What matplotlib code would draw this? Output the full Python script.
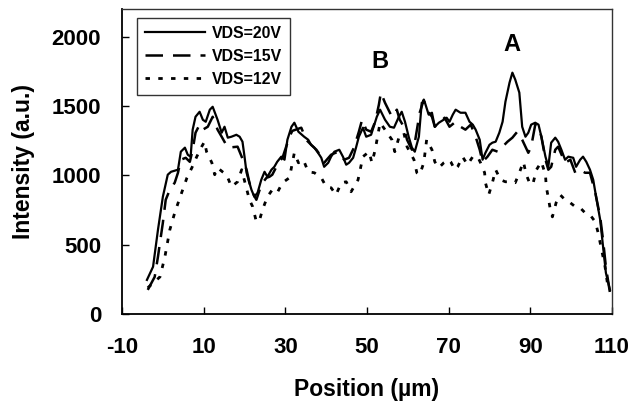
import matplotlib
matplotlib.use("Agg")
import matplotlib.pyplot as plt

# ---- data ----
pos20 = [-3.9, -2.4, -1.2, 0.0, 1.2, 2.0, 3.7, 4.4, 5.4, 6.1,
         6.8, 7.3, 8.0, 9.0, 9.8, 10.5, 11.5, 12.2, 13.4, 14.4,
         15.1, 15.9, 16.8, 18.0, 18.8, 19.5, 20.0, 20.5, 21.7, 22.4,
         23.2, 24.1, 24.9, 25.6, 26.6, 27.3, 28.0, 29.0, 29.8, 30.5,
         31.5, 32.2, 33.2, 34.6, 35.6, 36.3, 37.1, 38.0, 38.8, 39.5,
         40.5, 41.2, 42.0, 43.2, 44.1, 44.9, 45.6, 46.6, 47.3, 48.0,
         49.0, 49.8, 51.0, 52.4, 53.2, 54.4, 55.6, 56.6, 57.8, 58.5,
         59.3, 60.2, 61.0, 61.7, 62.7, 63.4, 64.1, 65.1, 65.9, 66.6,
         67.6, 68.8, 69.5, 70.2, 71.0, 71.7, 72.9, 74.1, 75.1, 75.9,
         76.6, 77.6, 78.3, 79.0, 80.0, 80.7, 81.5, 82.4, 83.2, 83.9,
         84.9, 85.6, 86.3, 87.3, 88.0, 88.8, 89.5, 90.2, 91.2, 92.0,
         92.7, 93.7, 94.4, 95.1, 96.1, 96.8, 97.6, 98.5, 99.3, 100.5,
         101.2, 102.2, 102.9, 103.7, 104.6, 105.4, 106.1, 107.1, 107.8, 108.5,
         109.5]
int20 = [245, 340, 606, 845, 1004, 1025, 1040, 1170, 1199, 1148,
         1134, 1329, 1422, 1458, 1400, 1386, 1473, 1494, 1400, 1307,
         1350, 1271, 1278, 1292, 1278, 1242, 1134, 1018, 895, 845,
         874, 967, 1025, 989, 1040, 1061, 1097, 1134, 1112, 1256,
         1350, 1379, 1314, 1278, 1256, 1220, 1199, 1162, 1126, 1061,
         1090, 1134, 1170, 1184, 1134, 1076, 1090, 1126, 1199, 1278,
         1343, 1278, 1292, 1422, 1473, 1401, 1350, 1343, 1422, 1458,
         1386, 1278, 1199, 1170, 1278, 1523, 1531, 1437, 1451, 1350,
         1379, 1401, 1415, 1386, 1437, 1473, 1451, 1451, 1386, 1365,
         1329, 1256, 1112, 1162, 1220, 1235, 1242, 1307, 1386, 1531,
         1668, 1740, 1690, 1596, 1350, 1278, 1307, 1365, 1379, 1365,
         1278, 1134, 1061, 1235, 1271, 1242, 1184, 1112, 1134, 1126,
         1061, 1112, 1134, 1097, 1040, 967, 845, 679, 484, 296,
         173]

pos15 = [-3.7, -2.0, -1.2, -0.5, 0.0, 0.7, 1.7, 2.9, 3.7, 4.4,
         5.6, 6.6, 7.3, 8.0, 9.0, 9.8, 11.0, 12.2, 13.4, 14.4,
         15.9, 18.3, 19.3, 20.5, 21.2, 22.0, 22.9, 23.7, 24.4, 25.4,
         26.1, 26.8, 27.8, 28.5, 29.3, 30.2, 31.0, 31.7, 33.9, 35.1,
         36.3, 37.6, 38.8, 39.5, 41.2, 42.9, 44.4, 45.6, 46.8, 48.0,
         48.8, 49.8, 51.0, 52.0, 52.9, 53.4, 54.4, 56.1, 57.3, 58.0,
         59.0, 59.8, 61.0, 61.7, 62.9, 63.9, 64.6, 65.9, 66.6, 67.8,
         69.0, 70.2, 71.7, 72.9, 74.1, 75.4, 76.6, 77.6, 78.3, 79.5,
         80.7, 82.0, 83.2, 84.4, 85.6, 86.8, 88.0, 89.5, 90.2, 91.2,
         92.0, 92.7, 93.7, 94.4, 95.1, 96.1, 96.8, 98.5, 99.8, 101.0,
         102.2, 103.4, 104.6, 105.9, 107.1, 107.8, 108.5, 109.5]
int15 = [173, 267, 412, 556, 657, 823, 895, 946, 1018, 1112,
         1126, 1097, 1184, 1307, 1365, 1329, 1350, 1422, 1329, 1278,
         1199, 1206, 1134, 1040, 946, 874, 823, 895, 946, 982,
         989, 1004, 1061, 1097, 1126, 1206, 1278, 1320, 1343, 1256,
         1220, 1184, 1134, 1090, 1148, 1170, 1112, 1126, 1199, 1314,
         1401, 1329, 1314, 1386, 1509, 1596, 1523, 1422, 1473, 1401,
         1350, 1256, 1184, 1235, 1451, 1545, 1473, 1422, 1350, 1379,
         1415, 1350, 1386, 1350, 1329, 1365, 1278, 1184, 1097, 1134,
         1184, 1170, 1206, 1242, 1271, 1314, 1256, 1162, 1206, 1365,
         1350, 1278, 1112, 1040, 1061, 1184, 1206, 1090, 1112, 1018,
         1040, 1018, 1018, 874, 700, 534, 339, 152]

pos12 = [-3.7, -0.7, 0.5, 1.7, 2.9, 4.6, 5.9, 7.1, 8.3, 9.5,
         10.2, 10.7, 12.0, 12.7, 13.4, 14.6, 15.6, 16.8, 18.3, 19.3,
         21.2, 22.0, 22.9, 23.7, 24.4, 25.6, 26.8, 28.0, 29.3, 31.0,
         32.2, 33.2, 34.4, 35.6, 37.1, 38.8, 40.0, 41.2, 42.4, 43.7,
         44.9, 46.1, 47.8, 49.0, 50.5, 51.2, 52.0, 53.2, 54.4, 56.1,
         56.8, 57.8, 59.0, 59.8, 61.5, 62.2, 62.9, 63.9, 64.6, 65.9,
         66.6, 67.6, 68.8, 70.0, 70.5, 71.5, 72.2, 73.4, 74.6, 75.9,
         77.1, 77.8, 78.8, 79.0, 79.8, 80.7, 81.5, 82.7, 83.9, 85.1,
         86.3, 87.3, 88.3, 89.0, 90.0, 90.7, 91.5, 92.7, 93.7, 93.9,
         94.4, 94.9, 95.4, 96.3, 97.3, 98.5, 99.8, 101.0, 102.2, 103.4,
         104.6, 105.9, 106.6, 107.3, 108.3, 109.0]
int12 = [188, 267, 412, 606, 729, 874, 982, 1054, 1134, 1206,
         1242, 1170, 1090, 1004, 1054, 1025, 1004, 917, 953, 1040,
         823, 773, 664, 679, 751, 845, 895, 874, 946, 982,
         1162, 1090, 1112, 1025, 1018, 982, 917, 910, 859, 946,
         953, 881, 967, 1134, 1170, 1090, 1184, 1379, 1329, 1256,
         1170, 1271, 1307, 1206, 1112, 1018, 1004, 1090, 1256, 1184,
         1097, 1054, 1090, 1112, 1097, 1040, 1061, 1134, 1076, 1134,
         1134, 1090, 1018, 946, 859, 946, 1040, 967, 953, 953,
         946, 1018, 1097, 1004, 931, 946, 1040, 1097, 1004, 917,
         838, 751, 700, 801, 859, 823, 801, 773, 765, 729,
         715, 664, 585, 484, 339, 195]

labels = ["VDS=20V", "VDS=15V", "VDS=12V"]
xticks = [-10, 10, 30, 50, 70, 90, 110]
yticks = [0, 500, 1000, 1500, 2000]

plt.rcParams['font.family'] = ['Liberation Sans', 'DejaVu Sans']
plt.rcParams['font.weight'] = 'bold'
plt.rcParams['axes.unicode_minus'] = False

fig = plt.figure(figsize=(6.29, 4.05), dpi=100)
ax = fig.add_axes([0.194, 0.225, 0.779, 0.753])

ax.plot(pos20, int20, color='black', lw=1.6, ls='-', label=labels[0])
ax.plot(pos15, int15, color='black', lw=1.8, ls=(0, (7, 4)), label=labels[1])
ax.plot(pos12, int12, color='black', lw=2.0, ls=(0, (1.6, 3.0)), label=labels[2])

ax.set_xlim(-10, 110)
ax.set_ylim(0, 2200)
ax.set_xticks(xticks)
ax.set_yticks(yticks)
ax.tick_params(direction='in', length=5, width=1, labelsize=16)
ax.tick_params(axis='y', pad=15)
ax.tick_params(axis='x', pad=17)
for lab in ax.get_xticklabels() + ax.get_yticklabels():
    lab.set_fontweight('bold')
for s in ax.spines.values():
    s.set_linewidth(1.0)
    s.set_color('#333333')
ax.spines['bottom'].set_linewidth(1.3)
ax.spines['bottom'].set_color('black')
ax.spines['left'].set_linewidth(1.3)
ax.spines['left'].set_color('black')

ax.set_xlabel("Position (\u00b5m)", fontsize=16.5, fontweight='bold', labelpad=14)
ax.set_ylabel("Intensity (a.u.)", fontsize=16.5, fontweight='bold', labelpad=12)

ax.text(85.4, 1940, "A", fontsize=17, fontweight='bold', ha='center', va='center')
ax.text(53.2, 1820, "B", fontsize=17, fontweight='bold', ha='center', va='center')

leg = ax.legend(loc='upper left', bbox_to_anchor=(0.031, 0.97), borderaxespad=0,
                frameon=True, fancybox=False, edgecolor='black', handlelength=3.8,
                handletextpad=0.4, prop={'weight': 'bold', 'size': 11.4},
                labelspacing=0.5, borderpad=0.5)
leg.get_frame().set_linewidth(1.0)

fig.savefig("out.png", dpi=100)
